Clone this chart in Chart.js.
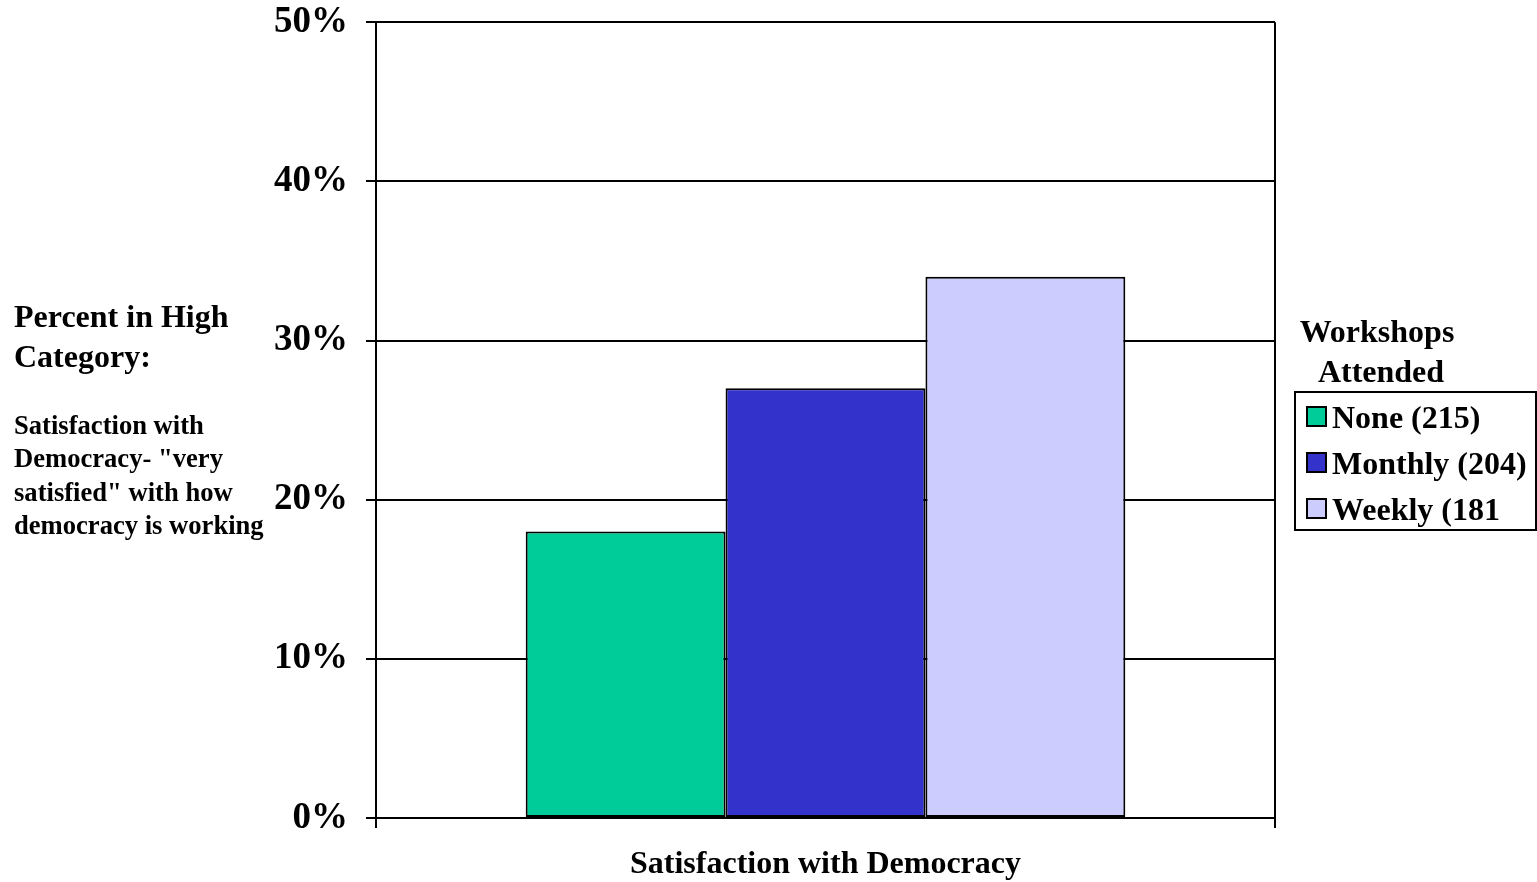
<!DOCTYPE html>
<html>
<head>
<meta charset="utf-8">
<script src="https://cdn.jsdelivr.net/npm/chart.js@4.4.0/dist/chart.umd.min.js"></script>
<style>
    body { margin: 0; background: #fff; font-family: "Liberation Serif", "Times New Roman", serif; font-weight: bold; overflow: hidden; }
    #wrap { position: relative; width: 1537px; height: 882px; overflow: hidden; }
    canvas { position: absolute; left: 0; top: -18px; }
    .txt { position: absolute; color: #000; white-space: nowrap; }
    #yTitle { left: 14px; top: 296px; font-size: 32px; line-height: 40px; }
    #yNote { left: 14px; top: 409px; font-size: 26.6px; line-height: 33.3px; }
    #xTitle { left: 0; width: 1651px; text-align: center; top: 844px; font-size: 32px; }
    #legTitle { left: 1297px; width: 160px; text-align: center; top: 311px; font-size: 32px; line-height: 40px; }
    #legend { position: absolute; left: 1294px; top: 391px; width: 239px; height: 136px; border: 2px solid #000; box-sizing: content-box; }
    .item { position: absolute; left: 10px; font-size: 32px; line-height: 32px; }
    .sw { display: inline-block; width: 17px; height: 17px; border: 2px solid #000; margin-right: 5px; vertical-align: 1px; }
</style>
</head>
<body>
<div id="wrap">
    <canvas id="chart" width="1537" height="900"></canvas>
    <div class="txt" id="yTitle">Percent in High<br>Category:</div>
    <div class="txt" id="yNote">Satisfaction with<br>Democracy- "very<br>satisfied" with how<br>democracy is working</div>
    <div class="txt" id="xTitle">Satisfaction with Democracy</div>
    <div class="txt" id="legTitle">Workshops<br>&nbsp;Attended</div>
    <div id="legend"></div>
</div>
<script>
const categories = [''];
const seriesNames = ['None (215)', 'Monthly (204)', 'Weekly (181'];
const seriesValues = [[18], [27], [34]];
const seriesColors = ['#00CC99', '#3333CC', '#CCCCFF'];
const yTicks = [0, 10, 20, 30, 40, 50];

// legend built from the same arrays
const legend = document.getElementById('legend');
seriesNames.forEach((name, i) => {
    const item = document.createElement('div');
    item.className = 'item';
    item.style.top = (8 + i * 46) + 'px';
    item.innerHTML = `<span class="sw" style="background:${seriesColors[i]}"></span>${name}`;
    legend.appendChild(item);
});

const ctx = document.getElementById('chart').getContext('2d');
new Chart(ctx, {
    type: 'bar',
    data: {
        labels: categories,
        datasets: seriesNames.map((name, i) => ({
            label: name,
            data: seriesValues[i],
            backgroundColor: seriesColors[i],
            borderColor: '#000',
            borderWidth: 2,
            borderSkipped: false,
            categoryPercentage: 0.667,
            barPercentage: 1
        }))
    },
    options: {
        responsive: false,
        animation: false,
        layout: { padding: { left: 0, top: 3, right: 262, bottom: 0 } },
        plugins: {
            legend: { display: false },
            tooltip: { enabled: false }
        },
        scales: {
            x: {
                grid: { color: '#000', lineWidth: 2, tickLength: 10, offset: true },
                border: { color: '#000', width: 2 },
                ticks: { display: false },
                afterFit: scale => { scale.height = 64; }
            },
            y: {
                min: yTicks[0],
                max: yTicks[yTicks.length - 1],
                afterBuildTicks: scale => { scale.ticks = yTicks.map(v => ({ value: v })); },
                grid: { color: '#000', lineWidth: 2, tickLength: 10 },
                border: { color: '#000', width: 2 },
                ticks: {
                    padding: 18,
                    color: '#000',
                    font: { family: 'Liberation Serif', size: 37, weight: 'bold' },
                    callback: v => v + '%'
                },
                afterFit: scale => { scale.width = 376; }
            }
        }
    }
});
</script>
</body>
</html>
